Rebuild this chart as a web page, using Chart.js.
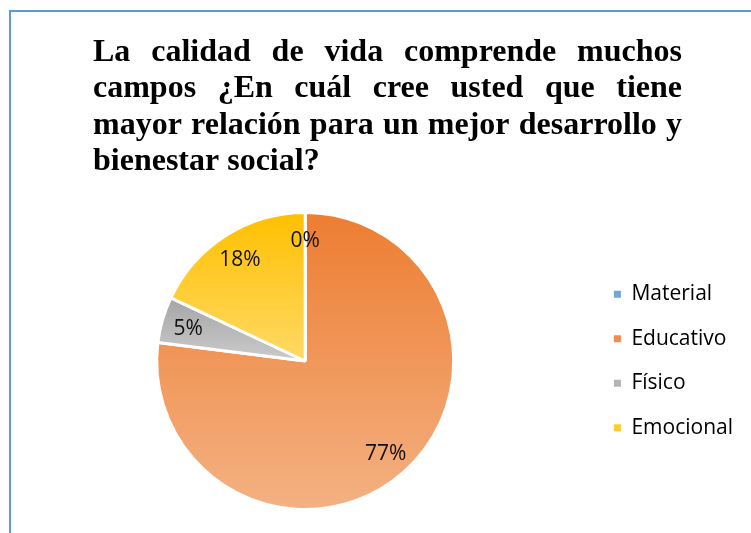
<!DOCTYPE html>
<html>
<head>
<meta charset="utf-8">
<script src="https://cdn.jsdelivr.net/npm/chart.js@4.4.1/dist/chart.umd.min.js"></script>
<style>
  html, body { margin: 0; padding: 0; background: #fff; overflow: hidden; }
  .frame { position: absolute; left: 9px; top: 10px; width: 900px; height: 700px;
           border-left: 2.5px solid #5B9BD5; border-top: 2.5px solid #5B9BD5; }
  canvas { position: absolute; left: 0; top: 0; }
</style>
</head>
<body>
<div class="frame"></div>
<canvas id="myChart" width="751" height="533"></canvas>
<script>
const titleLines = [
  'La calidad de vida comprende muchos',
  'campos ¿En cuál cree usted que tiene',
  'mayor relación para un mejor desarrollo y',
  'bienestar social?'
];
const categories = ['Material', 'Educativo', 'Físico', 'Emocional'];
const percentages = [0, 77, 5, 18];

// top / bottom colour of each slice gradient
const topColors = ['#5B9BD5', '#ED7D31', '#A5A5A5', '#FFC000'];
const bottomColors = ['#9DC3E6', '#F4B183', '#CBCBCB', '#FFD966'];
const legendColors = ['#6FA6DB', '#F08C4E', '#B3B3B3', '#FFCA33'];

// justified bold serif title
const justTitle = {
  id: 'justTitle',
  afterDraw(chart) {
    const c = chart.ctx;
    const left = 93, right = 682, first = 61, step = 36.3;
    const width = right - left;
    c.save();
    c.font = 'bold 32px "Liberation Serif", "Times New Roman", serif';
    c.fillStyle = '#000';
    c.textBaseline = 'alphabetic';
    titleLines.forEach((line, i) => {
      const y = first + i * step;
      const words = line.split(' ');
      const spaceW = c.measureText(' ').width;
      const wordsW = words.map(w => c.measureText(w).width);
      const natural = wordsW.reduce((a, b) => a + b, 0) + spaceW * (words.length - 1);
      const last = i === titleLines.length - 1;
      let scale = 1, gap = spaceW;
      if (natural > width) {
        scale = width / natural;
      } else if (!last) {
        gap = (width - wordsW.reduce((a, b) => a + b, 0)) / (words.length - 1);
      }
      c.save();
      c.translate(left, y);
      c.scale(scale, 1);
      let x = 0;
      words.forEach((w, k) => {
        c.fillText(w, x, 0);
        x += wordsW[k] + gap;
      });
      c.restore();
    });
    c.restore();
  }
};

// vertical gradient over each slice's own bounding box
const sliceGradient = {
  id: 'sliceGradient',
  beforeDatasetsDraw(chart) {
    const c = chart.ctx;
    chart.getDatasetMeta(0).data.forEach((arc, i) => {
      const {x, y, startAngle, endAngle, outerRadius} = arc;
      const ys = [y, y + outerRadius * Math.sin(startAngle), y + outerRadius * Math.sin(endAngle)];
      [-Math.PI / 2, Math.PI / 2, 3 * Math.PI / 2].forEach(a => {
        if (a >= startAngle && a <= endAngle) ys.push(y + outerRadius * Math.sin(a));
      });
      const y0 = Math.min(...ys), y1 = Math.max(...ys);
      const g = c.createLinearGradient(0, y0, 0, y1 === y0 ? y0 + 1 : y1);
      g.addColorStop(0, topColors[i]);
      g.addColorStop(1, bottomColors[i]);
      arc.options.backgroundColor = g;
    });
  }
};

// percentage labels inside the slices
const sliceLabels = {
  id: 'sliceLabels',
  afterDatasetsDraw(chart) {
    const c = chart.ctx;
    c.save();
    c.font = '21px "Open Sans", sans-serif';
    c.fillStyle = '#111';
    c.textAlign = 'center';
    c.textBaseline = 'middle';
    chart.getDatasetMeta(0).data.forEach((arc, i) => {
      const mid = (arc.startAngle + arc.endAngle) / 2;
      const r = arc.outerRadius * 0.82;
      c.fillText(percentages[i] + '%', arc.x + r * Math.cos(mid), arc.y + r * Math.sin(mid) + 1.5);
    });
    c.restore();
  }
};

new Chart(document.getElementById('myChart'), {
  type: 'pie',
  data: {
    labels: categories,
    datasets: [{
      data: percentages,
      backgroundColor: legendColors,
      borderColor: '#fff',
      borderWidth: 3
    }]
  },
  options: {
    responsive: false,
    animation: false,
    devicePixelRatio: 1,
    layout: { padding: { top: 211, bottom: 22, left: 20, right: 8 } },
    plugins: {
      tooltip: { enabled: false },
      legend: {
        position: 'right',
        labels: {
          boxWidth: 7,
          boxHeight: 7,
          padding: 23.5,
          color: '#000',
          font: { family: '"Open Sans", sans-serif', size: 21 },
          generateLabels(chart) {
            return Chart.overrides.pie.plugins.legend.labels.generateLabels(chart)
              .map((item, i) => Object.assign(item, { fillStyle: legendColors[i], lineWidth: 0 }));
          }
        }
      }
    }
  },
  plugins: [justTitle, sliceGradient, sliceLabels]
});
</script>
</body>
</html>
